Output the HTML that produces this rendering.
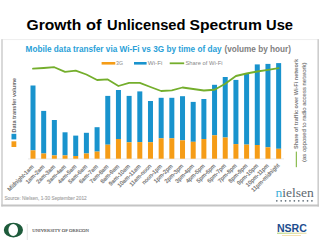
<!DOCTYPE html>
<html><head><meta charset="utf-8"><style>
html,body{margin:0;padding:0;background:#fff;width:320px;height:240px;overflow:hidden}
svg{position:absolute;left:0;top:0}
text{font-family:"Liberation Sans",sans-serif}
</style></head><body>
<svg width="320" height="240" viewBox="0 0 320 240">
<g font-size="15.3" font-weight="bold" fill="#000">
<text x="26.5" y="29.8" textLength="54.7" lengthAdjust="spacingAndGlyphs">Growth</text>
<text x="85.9" y="29.8" textLength="15.5" lengthAdjust="spacingAndGlyphs">of</text>
<text x="107.1" y="29.8" textLength="78.4" lengthAdjust="spacingAndGlyphs">Unlicensed</text>
<text x="189.6" y="29.8" textLength="72.3" lengthAdjust="spacingAndGlyphs">Spectrum</text>
<text x="266" y="29.8" textLength="27" lengthAdjust="spacingAndGlyphs">Use</text>
</g>
<!-- chart frame -->
<line x1="1.5" y1="39.6" x2="319" y2="39.6" stroke="#eeeeee" stroke-width="1"/>
<line x1="2" y1="39.2" x2="2" y2="206.5" stroke="#cdcdcd" stroke-width="1.5"/>
<line x1="318.2" y1="39.2" x2="318.2" y2="206.5" stroke="#cdcdcd" stroke-width="1.6"/>
<line x1="1.3" y1="205.5" x2="319" y2="205.5" stroke="#c4c4c4" stroke-width="1.8"/>
<text x="25.6" y="51.6" font-size="8.2" font-weight="bold" fill="#2a9fd8" textLength="196" lengthAdjust="spacingAndGlyphs">Mobile data transfer via Wi-Fi vs 3G by time of day</text>
<text x="224.5" y="51.6" font-size="8.2" font-weight="bold" fill="#7f7f7f" textLength="66.5" lengthAdjust="spacingAndGlyphs">(volume by hour)</text>
<!-- legend -->
<line x1="101.6" y1="63.3" x2="115.3" y2="63.3" stroke="#f59c16" stroke-width="2.6"/>
<text x="116" y="65.2" font-size="5.2" fill="#8a8a8a">3G</text>
<line x1="134" y1="63.3" x2="146.6" y2="63.3" stroke="#1993cd" stroke-width="2.6"/>
<text x="147.8" y="65.2" font-size="5.2" fill="#8a8a8a" textLength="14.6" lengthAdjust="spacingAndGlyphs">Wi-Fi</text>
<line x1="169.7" y1="63.3" x2="184.2" y2="63.3" stroke="#74ae2c" stroke-width="1.8"/>
<text x="185.5" y="65.2" font-size="5.2" fill="#8a8a8a" textLength="37" lengthAdjust="spacingAndGlyphs">Share of Wi-Fi</text>
<!-- left axis label -->
<text x="0" y="0" transform="translate(16.3,132.4) rotate(-90)" font-size="5.5" font-weight="bold" fill="#6a6a6a" textLength="54.5" lengthAdjust="spacingAndGlyphs">Data transfer volume</text>
<rect x="11.5" y="133.8" width="4.8" height="5.6" fill="#1993cd"/>
<rect x="11.5" y="141.3" width="4.8" height="5.7" fill="#f59c16"/>
<!-- axis -->
<line x1="28" y1="158.9" x2="284" y2="158.9" stroke="#d8d8d8" stroke-width="0.6"/>
<rect x="30.50" y="85.5" width="5.0" height="64.80" fill="#1993cd"/><rect x="30.50" y="150.3" width="5.0" height="8.40" fill="#f59c16"/><rect x="41.18" y="110.9" width="5.0" height="42.60" fill="#1993cd"/><rect x="41.18" y="153.5" width="5.0" height="5.20" fill="#f59c16"/><rect x="51.86" y="120" width="5.0" height="35.40" fill="#1993cd"/><rect x="51.86" y="155.4" width="5.0" height="3.30" fill="#f59c16"/><rect x="62.54" y="132.3" width="5.0" height="23.10" fill="#1993cd"/><rect x="62.54" y="155.4" width="5.0" height="3.30" fill="#f59c16"/><rect x="73.22" y="135.6" width="5.0" height="20.40" fill="#1993cd"/><rect x="73.22" y="156" width="5.0" height="2.70" fill="#f59c16"/><rect x="83.90" y="132.8" width="5.0" height="20.70" fill="#1993cd"/><rect x="83.90" y="153.5" width="5.0" height="5.20" fill="#f59c16"/><rect x="94.58" y="127.2" width="5.0" height="24.40" fill="#1993cd"/><rect x="94.58" y="151.6" width="5.0" height="7.10" fill="#f59c16"/><rect x="105.26" y="95.9" width="5.0" height="48.80" fill="#1993cd"/><rect x="105.26" y="144.7" width="5.0" height="14.00" fill="#f59c16"/><rect x="115.94" y="90" width="5.0" height="49.00" fill="#1993cd"/><rect x="115.94" y="139" width="5.0" height="19.70" fill="#f59c16"/><rect x="126.62" y="95.9" width="5.0" height="46.40" fill="#1993cd"/><rect x="126.62" y="142.3" width="5.0" height="16.40" fill="#f59c16"/><rect x="137.30" y="91.4" width="5.0" height="50.70" fill="#1993cd"/><rect x="137.30" y="142.1" width="5.0" height="16.60" fill="#f59c16"/><rect x="147.98" y="101" width="5.0" height="41.20" fill="#1993cd"/><rect x="147.98" y="142.2" width="5.0" height="16.50" fill="#f59c16"/><rect x="158.66" y="97.8" width="5.0" height="40.50" fill="#1993cd"/><rect x="158.66" y="138.3" width="5.0" height="20.40" fill="#f59c16"/><rect x="169.34" y="97.8" width="5.0" height="40.50" fill="#1993cd"/><rect x="169.34" y="138.3" width="5.0" height="20.40" fill="#f59c16"/><rect x="180.02" y="96.2" width="5.0" height="44.10" fill="#1993cd"/><rect x="180.02" y="140.3" width="5.0" height="18.40" fill="#f59c16"/><rect x="190.70" y="101.9" width="5.0" height="39.90" fill="#1993cd"/><rect x="190.70" y="141.8" width="5.0" height="16.90" fill="#f59c16"/><rect x="201.38" y="99" width="5.0" height="40.00" fill="#1993cd"/><rect x="201.38" y="139" width="5.0" height="19.70" fill="#f59c16"/><rect x="212.06" y="84.8" width="5.0" height="50.50" fill="#1993cd"/><rect x="212.06" y="135.3" width="5.0" height="23.40" fill="#f59c16"/><rect x="222.74" y="77" width="5.0" height="60.50" fill="#1993cd"/><rect x="222.74" y="137.5" width="5.0" height="21.20" fill="#f59c16"/><rect x="233.42" y="79.9" width="5.0" height="64.20" fill="#1993cd"/><rect x="233.42" y="144.1" width="5.0" height="14.60" fill="#f59c16"/><rect x="244.10" y="73.3" width="5.0" height="71.30" fill="#1993cd"/><rect x="244.10" y="144.6" width="5.0" height="14.10" fill="#f59c16"/><rect x="254.78" y="64.4" width="5.0" height="80.60" fill="#1993cd"/><rect x="254.78" y="145" width="5.0" height="13.70" fill="#f59c16"/><rect x="265.46" y="63.9" width="5.0" height="83.40" fill="#1993cd"/><rect x="265.46" y="147.3" width="5.0" height="11.40" fill="#f59c16"/><rect x="276.14" y="63.1" width="5.0" height="85.70" fill="#1993cd"/><rect x="276.14" y="148.8" width="5.0" height="9.90" fill="#f59c16"/>
<polyline points="33.00,68.7 43.68,68 54.36,67.2 65.04,71.9 75.72,70.6 86.40,74.5 97.08,80 107.76,79.4 118.44,86 129.12,82.8 139.80,82.8 150.48,87 161.16,91 171.84,90.3 182.52,87.5 193.20,89 203.88,90.5 214.56,89.75 225.24,83.8 235.92,76 246.60,73.5 257.28,71.5 267.96,69.8 278.64,68.1" fill="none" stroke="#74ae2c" stroke-width="1.8" stroke-linejoin="round" stroke-linecap="round"/>
<text x="0" y="0" text-anchor="end" transform="translate(34.20,167.20) rotate(-45)" font-size="5.7" fill="#747474" stroke="#747474" stroke-width="0.18">Midnight-1am</text><text x="0" y="0" text-anchor="end" transform="translate(44.88,167.15) rotate(-45)" font-size="5.7" fill="#747474" stroke="#747474" stroke-width="0.18">1am-2am</text><text x="0" y="0" text-anchor="end" transform="translate(55.56,167.10) rotate(-45)" font-size="5.7" fill="#747474" stroke="#747474" stroke-width="0.18">2am-3am</text><text x="0" y="0" text-anchor="end" transform="translate(66.24,167.04) rotate(-45)" font-size="5.7" fill="#747474" stroke="#747474" stroke-width="0.18">3am-4am</text><text x="0" y="0" text-anchor="end" transform="translate(76.92,166.99) rotate(-45)" font-size="5.7" fill="#747474" stroke="#747474" stroke-width="0.18">4am-5am</text><text x="0" y="0" text-anchor="end" transform="translate(87.60,166.94) rotate(-45)" font-size="5.7" fill="#747474" stroke="#747474" stroke-width="0.18">5am-6am</text><text x="0" y="0" text-anchor="end" transform="translate(98.28,166.89) rotate(-45)" font-size="5.7" fill="#747474" stroke="#747474" stroke-width="0.18">6am-7am</text><text x="0" y="0" text-anchor="end" transform="translate(108.96,166.83) rotate(-45)" font-size="5.7" fill="#747474" stroke="#747474" stroke-width="0.18">7am-8am</text><text x="0" y="0" text-anchor="end" transform="translate(119.64,166.78) rotate(-45)" font-size="5.7" fill="#747474" stroke="#747474" stroke-width="0.18">8am-9am</text><text x="0" y="0" text-anchor="end" transform="translate(130.32,166.73) rotate(-45)" font-size="5.7" fill="#747474" stroke="#747474" stroke-width="0.18">9am-10am</text><text x="0" y="0" text-anchor="end" transform="translate(141.00,166.68) rotate(-45)" font-size="5.7" fill="#747474" stroke="#747474" stroke-width="0.18">10am-11am</text><text x="0" y="0" text-anchor="end" transform="translate(151.68,166.63) rotate(-45)" font-size="5.7" fill="#747474" stroke="#747474" stroke-width="0.18">11am-noon</text><text x="0" y="0" text-anchor="end" transform="translate(162.36,166.57) rotate(-45)" font-size="5.7" fill="#747474" stroke="#747474" stroke-width="0.18">noon-1pm</text><text x="0" y="0" text-anchor="end" transform="translate(173.04,166.52) rotate(-45)" font-size="5.7" fill="#747474" stroke="#747474" stroke-width="0.18">1pm-2pm</text><text x="0" y="0" text-anchor="end" transform="translate(183.72,166.47) rotate(-45)" font-size="5.7" fill="#747474" stroke="#747474" stroke-width="0.18">2pm-3pm</text><text x="0" y="0" text-anchor="end" transform="translate(194.40,166.42) rotate(-45)" font-size="5.7" fill="#747474" stroke="#747474" stroke-width="0.18">3pm-4pm</text><text x="0" y="0" text-anchor="end" transform="translate(205.08,166.37) rotate(-45)" font-size="5.7" fill="#747474" stroke="#747474" stroke-width="0.18">4pm-5pm</text><text x="0" y="0" text-anchor="end" transform="translate(215.76,166.31) rotate(-45)" font-size="5.7" fill="#747474" stroke="#747474" stroke-width="0.18">5pm-6pm</text><text x="0" y="0" text-anchor="end" transform="translate(226.44,166.26) rotate(-45)" font-size="5.7" fill="#747474" stroke="#747474" stroke-width="0.18">6pm-7pm</text><text x="0" y="0" text-anchor="end" transform="translate(237.12,166.21) rotate(-45)" font-size="5.7" fill="#747474" stroke="#747474" stroke-width="0.18">7pm-8pm</text><text x="0" y="0" text-anchor="end" transform="translate(247.80,166.16) rotate(-45)" font-size="5.7" fill="#747474" stroke="#747474" stroke-width="0.18">8pm-9pm</text><text x="0" y="0" text-anchor="end" transform="translate(258.48,166.10) rotate(-45)" font-size="5.7" fill="#747474" stroke="#747474" stroke-width="0.18">9pm-10pm</text><text x="0" y="0" text-anchor="end" transform="translate(269.16,166.05) rotate(-45)" font-size="5.7" fill="#747474" stroke="#747474" stroke-width="0.18">10pm-11pm</text><text x="0" y="0" text-anchor="end" transform="translate(279.84,166.00) rotate(-45)" font-size="5.7" fill="#747474" stroke="#747474" stroke-width="0.18">11pm-midnight</text>
<!-- right label -->
<text x="0" y="0" transform="translate(298.2,149) rotate(-90)" font-size="5.5" font-weight="bold" fill="#7a7a7a" textLength="90" lengthAdjust="spacingAndGlyphs">Share of traffic over Wi-Fi network</text>
<text x="0" y="0" transform="translate(305.6,162) rotate(-90)" font-size="5.5" fill="#767676" stroke="#767676" stroke-width="0.1" textLength="99.5" lengthAdjust="spacingAndGlyphs">(as opposed to radio access network)</text>
<line x1="296.3" y1="151.6" x2="296.3" y2="167.2" stroke="#74ae2c" stroke-width="1"/>
<!-- source -->
<text x="4.4" y="200.1" font-size="5.6" fill="#a2a2a2" stroke="#a2a2a2" stroke-width="0.12" textLength="82.3" lengthAdjust="spacingAndGlyphs">Source: Nielsen, 1-30 September 2012</text>
<!-- nielsen logo -->
<text x="275.4" y="197.2" style="font-family:'Liberation Serif',serif" font-size="12.7" fill="#5e6870" textLength="38.3" lengthAdjust="spacingAndGlyphs"><tspan fill="#3fb0da">n</tspan>ielsen</text>
<g fill="#5f6d77"><circle cx="276.80" cy="200.8" r="0.85"/><circle cx="281.19" cy="200.8" r="0.85"/><circle cx="285.58" cy="200.8" r="0.85"/><circle cx="289.97" cy="200.8" r="0.85"/><circle cx="294.36" cy="200.8" r="0.85"/><circle cx="298.75" cy="200.8" r="0.85"/><circle cx="303.14" cy="200.8" r="0.85"/><circle cx="307.53" cy="200.8" r="0.85"/><circle cx="311.92" cy="200.8" r="0.85"/></g>
<!-- footer UO -->
<path fill-rule="evenodd" fill="#1e5b3b" d="M3.8,230.1 a9.6,7.4 0 1,0 19.2,0 a9.6,7.4 0 1,0 -19.2,0 Z M8.4,230.1 a4.8,6.0 0 1,0 9.6,0 a4.8,6.0 0 1,0 -9.6,0 Z"/>
<line x1="27.3" y1="224" x2="27.3" y2="240" stroke="#d8d8d8" stroke-width="0.7"/>
<text x="32.2" y="231.7" style="font-family:'Liberation Serif',serif" font-size="3.9" fill="#4a4a4a" stroke="#4a4a4a" stroke-width="0.08" textLength="56.8" lengthAdjust="spacingAndGlyphs">UNIVERSITY OF OREGON</text>
<!-- NSRC -->
<text x="276.9" y="231.6" font-size="10.6" font-weight="bold" fill="#1d4d8e" textLength="29.9" lengthAdjust="spacingAndGlyphs">NSRC</text>
<defs><linearGradient id="ug" x1="0" x2="1" y1="0" y2="0"><stop offset="0" stop-color="#a9cf6c"/><stop offset="0.6" stop-color="#d6d98a"/><stop offset="1" stop-color="#e9d9a0"/></linearGradient></defs>
<rect x="277" y="232.7" width="29.5" height="1" fill="url(#ug)"/>
<rect x="282" y="235" width="19" height="1" fill="#f6e2b0"/>
</svg>
</body></html>
